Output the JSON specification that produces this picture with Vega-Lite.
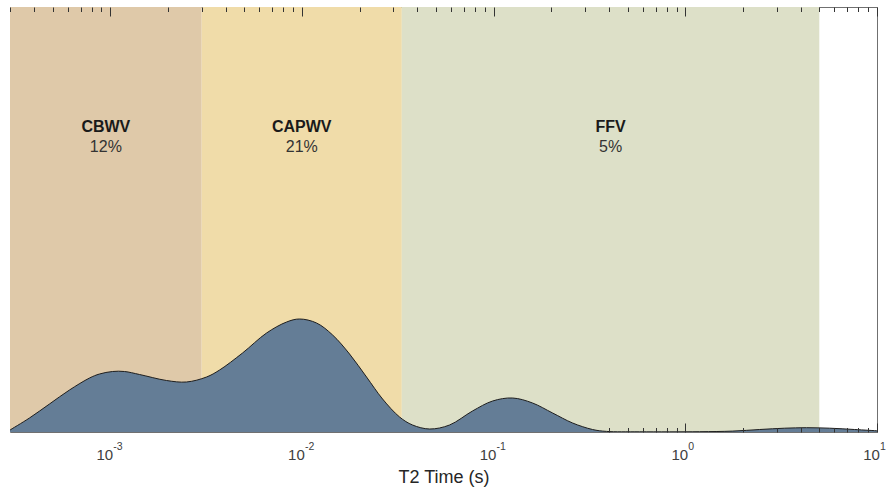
{
  "$schema": "https://vega.github.io/schema/vega-lite/v6.json",
  "width": 867,
  "height": 425,
  "autosize": "none",
  "padding": {"left": 10, "top": 7, "right": 12, "bottom": 56},
  "background": "white",
  "config": {
    "view": {"stroke": "#707070", "strokeWidth": 1},
    "font": "Liberation Sans"
  },
  "datasets": {
    "bands": [
      {"band": "CBWV", "start": 0.0003, "end": 0.003, "pct": "12%"},
      {"band": "CAPWV", "start": 0.003, "end": 0.0332, "pct": "21%"},
      {"band": "FFV", "start": 0.0332, "end": 5.0, "pct": "5%"}
    ],
    "dist": [
      {"t2": 0.0003, "amp": 2},
      {"t2": 0.000379, "amp": 14},
      {"t2": 0.000482, "amp": 28},
      {"t2": 0.000613, "amp": 42},
      {"t2": 0.00078, "amp": 54},
      {"t2": 0.000879, "amp": 58},
      {"t2": 0.001028, "amp": 60.5},
      {"t2": 0.001187, "amp": 60.5},
      {"t2": 0.001422, "amp": 57.5},
      {"t2": 0.001966, "amp": 51.5},
      {"t2": 0.0025, "amp": 50},
      {"t2": 0.00318, "amp": 55},
      {"t2": 0.00372, "amp": 62},
      {"t2": 0.0049, "amp": 79},
      {"t2": 0.00654, "amp": 99},
      {"t2": 0.00832, "amp": 110},
      {"t2": 0.00972, "amp": 113},
      {"t2": 0.01192, "amp": 109},
      {"t2": 0.01446, "amp": 97},
      {"t2": 0.01772, "amp": 78},
      {"t2": 0.02173, "amp": 55},
      {"t2": 0.02635, "amp": 33},
      {"t2": 0.03232, "amp": 15},
      {"t2": 0.03776, "amp": 7},
      {"t2": 0.0464, "amp": 3},
      {"t2": 0.0589, "amp": 7},
      {"t2": 0.0776, "amp": 21},
      {"t2": 0.0988, "amp": 31},
      {"t2": 0.1256, "amp": 34},
      {"t2": 0.1596, "amp": 29},
      {"t2": 0.2031, "amp": 19},
      {"t2": 0.2582, "amp": 9},
      {"t2": 0.328, "amp": 2.5},
      {"t2": 0.388, "amp": 0.6},
      {"t2": 0.577, "amp": 0.2},
      {"t2": 1.187, "amp": 0.3},
      {"t2": 1.765, "amp": 0.9},
      {"t2": 2.442, "amp": 2.5},
      {"t2": 3.3, "amp": 3.8},
      {"t2": 4.29, "amp": 4.3},
      {"t2": 5.66, "amp": 3.8},
      {"t2": 7.64, "amp": 2.5},
      {"t2": 10, "amp": 1.2}
    ]
  },
  "resolve": {"axis": {"x": "independent"}},
  "layer": [
    {
      "data": {"name": "bands"},
      "mark": {"type": "rect"},
      "encoding": {
        "x": {
          "field": "start", "type": "quantitative",
          "scale": {"type": "log", "domain": [0.0003, 10], "nice": false, "zero": false},
          "axis": {
            "orient": "bottom",
            "title": "T2 Time (s)",
            "titleFont": "Liberation Sans",
            "titleFontSize": 18,
            "titleFontWeight": "normal",
            "titleColor": "#262626",
            "titlePadding": 6,
            "values": [0.001, 0.01, 0.1, 1, 10],
            "labelExpr": "'10'",
            "labelFont": "Liberation Sans",
            "labelFontSize": 15,
            "labelColor": "#404040",
            "labelBaseline": "alphabetic",
            "labelPadding": 27,
            "labelOffset": -6,
            "labelFlush": false,
            "labelOverlap": false,
            "ticks": false,
            "domain": false,
            "grid": false
          }
        },
        "x2": {"field": "end"},
        "color": {
          "field": "band", "type": "nominal",
          "scale": {"domain": ["CBWV", "CAPWV", "FFV"], "range": ["#dfc9a9", "#f0dca9", "#dde0c8"]},
          "legend": null
        }
      }
    },
    {
      "data": {"name": "bands"},
      "mark": {"type": "rect", "opacity": 0},
      "encoding": {
        "x": {
          "field": "start", "type": "quantitative",
          "axis": {
            "orient": "bottom",
            "title": null,
            "values": [0.4,0.5,0.6,0.7,0.8,0.9,2,3,4,5,6,7,8,9],
            "labels": false,
            "tickColor": "#333333",
            "tickSize": -4.5,
            "domain": false,
            "grid": false,
            "zindex": 1
          }
        },
        "x2": {"field": "end"}
      }
    },
    {
      "data": {"name": "bands"},
      "mark": {"type": "rect", "opacity": 0},
      "encoding": {
        "x": {
          "field": "start", "type": "quantitative",
          "axis": {
            "orient": "top",
            "title": null,
            "values": [0.001, 0.01, 0.1, 1, 10],
            "labels": false,
            "tickColor": "#333333",
            "tickSize": -9,
            "domain": false,
            "grid": false,
            "zindex": 1
          }
        },
        "x2": {"field": "end"}
      }
    },
    {
      "data": {"name": "dist"},
      "mark": {"type": "area", "interpolate": "catmull-rom", "clip": true, "color": "#647d96", "opacity": 1, "line": {"color": "#1e1e1e", "strokeWidth": 1}},
      "encoding": {
        "x": {
          "field": "t2", "type": "quantitative",
          "axis": {
            "orient": "top",
            "title": null,
            "values": [0.0003,0.0004,0.0005,0.0006,0.0007,0.0008,0.0009,0.002,0.003,0.004,0.005,0.006,0.007,0.008,0.009,0.02,0.03,0.04,0.05,0.06,0.07,0.08,0.09,0.2,0.3,0.4,0.5,0.6,0.7,0.8,0.9,2,3,4,5,6,7,8,9],
            "labels": false,
            "tickColor": "#333333",
            "tickSize": -4.5,
            "domain": false,
            "grid": false,
            "zindex": 1
          }
        },
        "y": {
          "field": "amp", "type": "quantitative",
          "scale": {"domain": [0, 425], "nice": false},
          "axis": null
        }
      }
    },
    {
      "data": {"name": "bands"},
      "transform": [{"calculate": "sqrt(datum.start * datum.end)", "as": "mid"}],
      "mark": {"type": "text", "font": "Liberation Sans", "fontSize": 16, "fontWeight": "bold", "color": "#1a1a1a", "baseline": "middle"},
      "encoding": {
        "x": {
          "field": "mid", "type": "quantitative",
          "axis": {
            "orient": "bottom",
            "title": null,
            "values": [0.001, 0.01, 0.1, 1, 10],
            "labelExpr": "datum.value < 0.002 ? '-3' : datum.value < 0.02 ? '-2' : datum.value < 0.2 ? '-1' : datum.value < 2 ? '0' : '1'",
            "labelFont": "Liberation Sans",
            "labelFontSize": 10.5,
            "labelColor": "#404040",
            "labelBaseline": "alphabetic",
            "labelAlign": "left",
            "labelPadding": 17,
            "labelOffset": 2.5,
            "labelFlush": false,
            "labelOverlap": false,
            "ticks": false,
            "domain": false,
            "grid": false
          }
        },
        "y": {"datum": 305},
        "text": {"field": "band"}
      }
    },
    {
      "data": {"name": "bands"},
      "transform": [{"calculate": "sqrt(datum.start * datum.end)", "as": "mid"}],
      "mark": {"type": "text", "font": "Liberation Sans", "fontSize": 16, "color": "#333333", "baseline": "middle"},
      "encoding": {
        "x": {
          "field": "mid", "type": "quantitative",
          "axis": {
            "orient": "bottom",
            "title": null,
            "values": [1, 10],
            "labels": false,
            "tickColor": "#333333",
            "tickSize": -9,
            "domain": false,
            "grid": false,
            "zindex": 1
          }
        },
        "y": {"datum": 285},
        "text": {"field": "pct"}
      }
    }
  ]
}
